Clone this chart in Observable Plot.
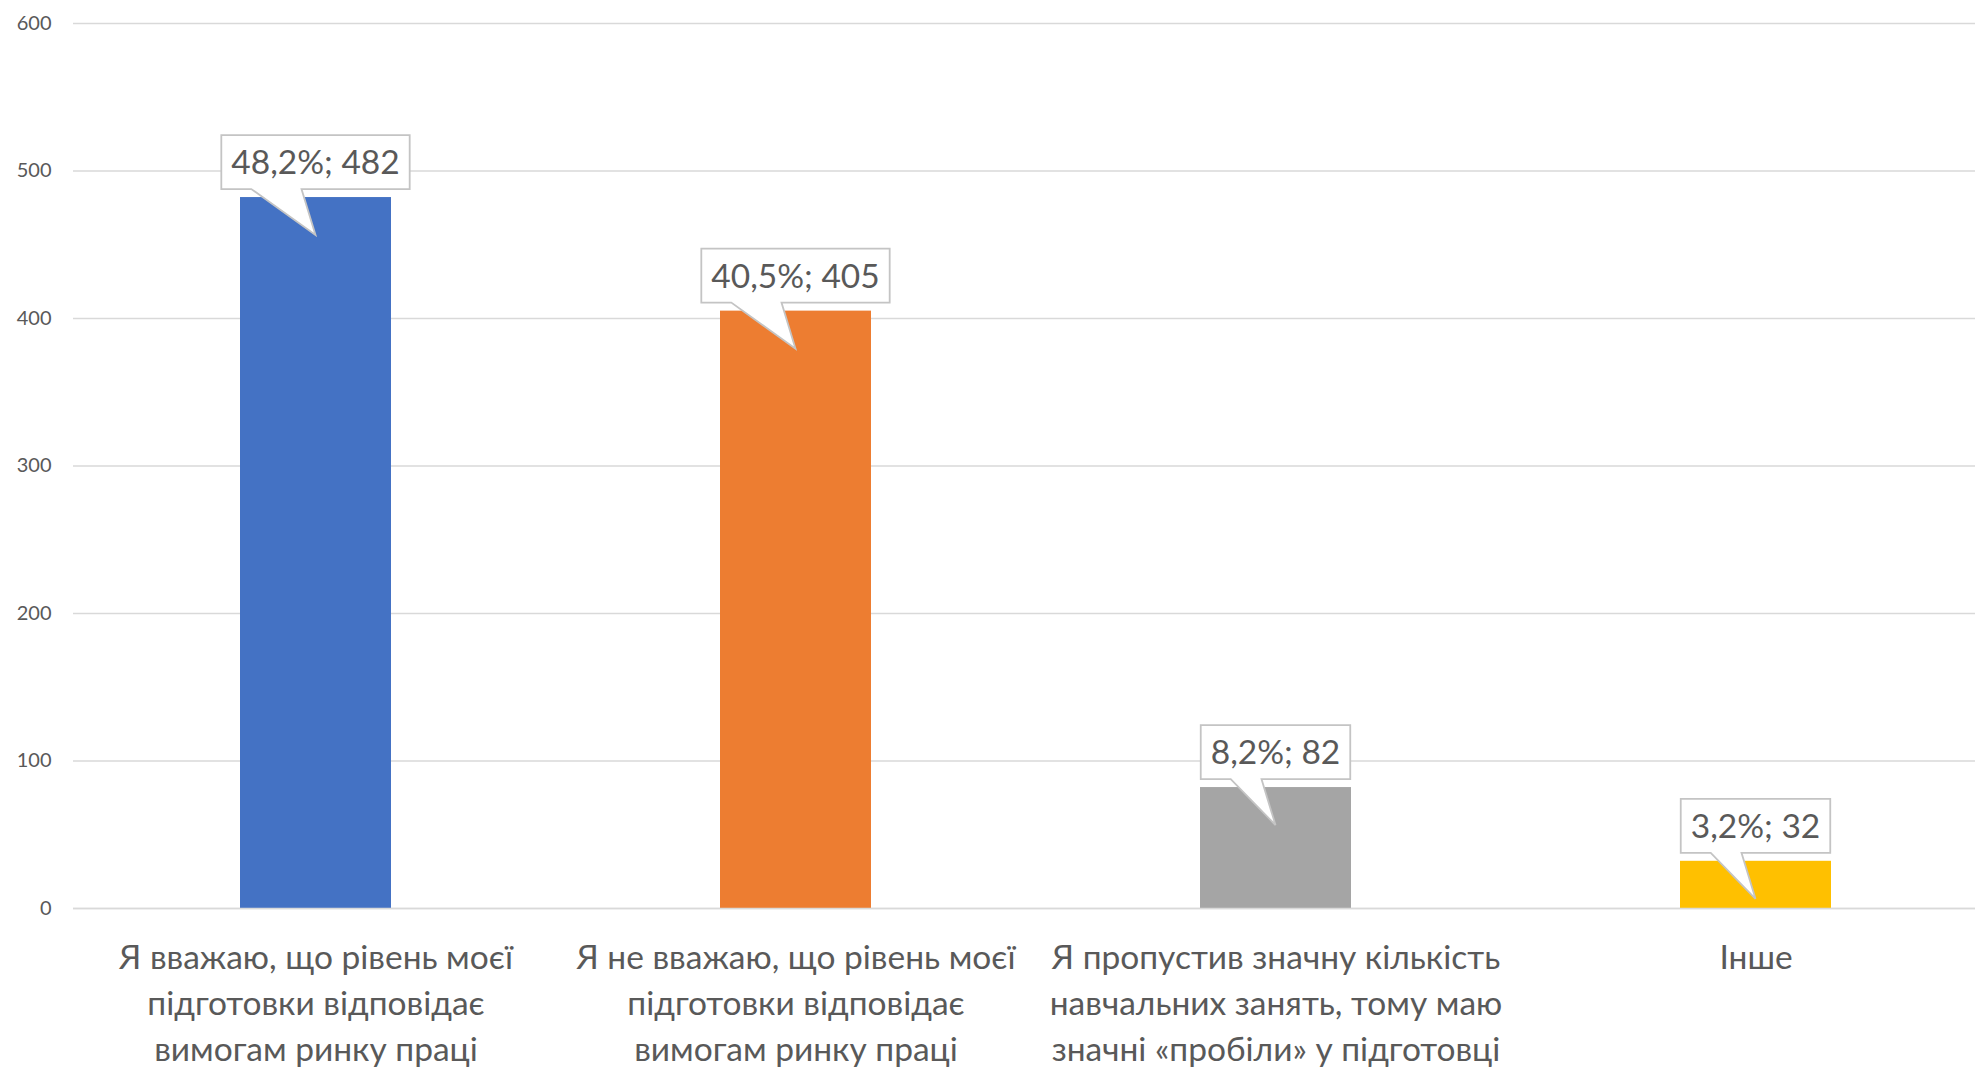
<!DOCTYPE html>
<html><head><meta charset="utf-8">
<script src="https://cdn.jsdelivr.net/npm/d3@7"></script>
<script src="https://cdn.jsdelivr.net/npm/@observablehq/plot@0.6"></script>
<style>body{margin:0;background:#fff} svg{display:block}</style>
</head><body><div id="chart"></div>
<script>
const categories = [
  "Я вважаю, що рівень моєї\nпідготовки відповідає\nвимогам ринку праці",
  "Я не вважаю, що рівень моєї\nпідготовки відповідає\nвимогам ринку праці",
  "Я пропустив значну кількість\nнавчальних занять, тому маю\nзначні «пробіли» у підготовці",
  "Інше"
];
const values = [482, 405, 82, 32];
const percents = ["48,2%", "40,5%", "8,2%", "3,2%"];
const palette = ["#4472C4", "#ED7D31", "#A5A5A5", "#FFC000"];
const yTicks = [0, 100, 200, 300, 400, 500, 600];

const data = categories.map((c, i) => ({category: c, value: values[i], label: `${percents[i]}; ${values[i]}`}));

const TEXT = "#595959";
const LABEL_FS = 33.5;
const CAT_FS = 33.5;
const FONT = "Lato, 'Open Sans', sans-serif";

function callouts(index, scales) {
  const x = scales.x, y = scales.y;
  const bw = x.bandwidth();
  const g = d3.create("svg:g");
  const ctx = document.createElement("canvas").getContext("2d");
  ctx.font = `${LABEL_FS}px Lato`;
  for (const d of data) {
    const cx = x(d.category) + bw / 2;
    const yt = y(d.value);
    const w = ctx.measureText(d.label).width + 20;
    const L = cx - w / 2, R = cx + w / 2, T = yt - 62, B = yt - 8;
    const p = `M${L},${T}H${R}V${B}H${cx - 14}L${cx},${yt + 38}L${L + 30},${B}H${L}Z`;
    g.append("path").attr("d", p).attr("fill", "white").attr("stroke", "#c4c4c4").attr("stroke-width", 1.8);
    g.append("text").attr("x", cx).attr("y", B - 15).attr("text-anchor", "middle")
      .attr("fill", TEXT).attr("font-size", LABEL_FS).attr("font-family", FONT).text(d.label);
  }
  return g.node();
}

const chart = Plot.plot({
  width: 1975,
  height: 1067,
  marginLeft: 73,
  marginRight: 0,
  marginTop: 23,
  marginBottom: 159,
  style: {fontFamily: FONT, fontSize: "20px", color: TEXT, background: "white"},
  x: {domain: categories, range: [75.5, 1995.5], paddingInner: 0.685, paddingOuter: 0.3425, axis: null},
  y: {domain: [0, 600], ticks: yTicks, tickSize: 0, tickPadding: 22, label: null},
  color: {domain: categories, range: palette},
  marks: [
    Plot.ruleY(yTicks, {stroke: "#d9d9d9", strokeWidth: 1.5}),
    Plot.barY(data, {x: "category", y: "value", fill: "category"}),
    Plot.ruleY([0], {stroke: "#d9d9d9", strokeWidth: 1.5}),
    Plot.text(data, {x: "category", y: () => 0, text: "category", lineAnchor: "top", dy: 28,
      fontSize: CAT_FS, lineHeight: 1.37, fill: TEXT}),
    callouts
  ]
});
document.getElementById("chart").appendChild(chart);
</script>
</body></html>
